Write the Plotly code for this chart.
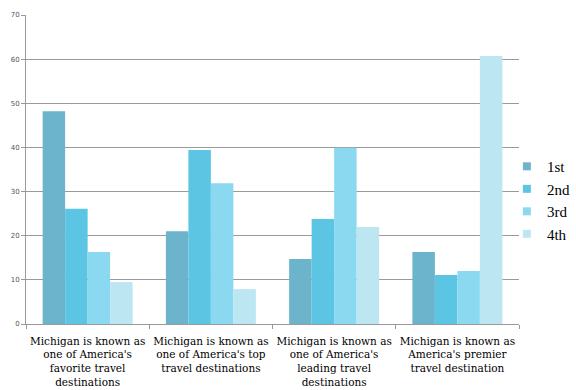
import plotly.graph_objects as go

categories = [
    "Michigan is known as<br>one of America's<br>favorite travel<br>destinations",
    "Michigan is known as<br>one of America's top<br>travel destinations",
    "Michigan is known as<br>one of America's<br>leading travel<br>destinations",
    "Michigan is known as<br>America's premier<br>travel destination",
]
series_names = ["1st", "2nd", "3rd", "4th"]
first = [48.2, 21.0, 14.7, 16.3]
second = [26.1, 39.4, 23.8, 11.1]
third = [16.3, 31.9, 39.9, 12.0]
fourth = [9.5, 7.9, 22.0, 60.7]
values = [first, second, third, fourth]
colors = ["#6cb4cc", "#5cc5e4", "#8ad9f0", "#bde6f3"]
y_ticks = [0, 10, 20, 30, 40, 50, 60, 70]

SERIF = "Liberation Serif, Times New Roman, serif"
LABEL_SERIF = "DejaVu Serif, serif"

fig = go.Figure()
for name, vals, col in zip(series_names, values, colors):
    fig.add_trace(go.Bar(x=categories, y=vals, name=name, showlegend=False,
                         marker=dict(color=col, line=dict(width=0))))
# legend-only entries with small square symbols
for name, col in zip(series_names, colors):
    fig.add_trace(go.Scatter(x=[categories[0]], y=[None], mode="markers", name=name,
                             marker=dict(symbol="square", size=8, color=col),
                             showlegend=True, hoverinfo="skip"))

fig.update_layout(
    width=576, height=390,
    margin=dict(l=26, r=57, t=15, b=66, autoexpand=False),
    paper_bgcolor="white", plot_bgcolor="white",
    barmode="group", bargap=0.27, bargroupgap=0,
    font=dict(family=SERIF, size=11, color="black"),
    legend=dict(xref="container", yref="container", x=0.88, y=0.487,
                yanchor="middle", xanchor="left",
                font=dict(family=SERIF, size=15, color="black"),
                itemwidth=30, tracegroupgap=0, bgcolor="rgba(0,0,0,0)"),
    showlegend=True,
)
fig.update_yaxes(range=[0, 70], tickvals=y_ticks, showgrid=True, gridcolor="#9a9a9a",
                 gridwidth=1, showline=True, linecolor="#9a9a9a", linewidth=1,
                 ticks="outside", ticklen=4, tickcolor="#9a9a9a",
                 tickfont=dict(family="DejaVu Sans", size=7, color="#555555"),
                 zeroline=False, automargin=False)
fig.update_xaxes(showline=True, linecolor="#9a9a9a", linewidth=1, ticks="outside",
                 tickson="boundaries", ticklen=4, tickcolor="#9a9a9a",
                 tickangle=0,
                 tickfont=dict(family=LABEL_SERIF, size=10.5, color="black"),
                 ticklabelstandoff=7,
                 showgrid=False, automargin=False)

fig.write_html("out.html")
